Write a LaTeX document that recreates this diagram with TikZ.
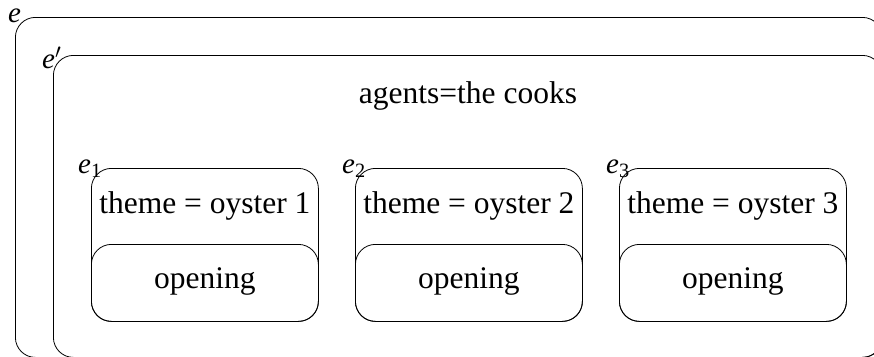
\documentclass[tikz,border=0pt]{standalone}
\usepackage{fontspec}
\setmainfont{Liberation Serif}
\usetikzlibrary{calc}
\begin{document}
\begin{tikzpicture}[x=1pt,y=-1pt,
  frame/.style={draw, line width=0.8pt, rounded corners=20pt, inner sep=0pt, anchor=north west},
  txt/.style={font=\fontsize{31.5}{36}\selectfont, anchor=base, inner sep=0pt},
  tag/.style={font=\fontsize{29}{32}\selectfont, anchor=base west, inner sep=0pt}]
\useasboundingbox (0,0) rectangle (874,356);
\clip (0,0) rectangle (874,356);

% outer event e and sub-event e'
\node[frame, minimum width=867pt, minimum height=340pt] (e) at (15,17) {};
\node[frame, minimum width=829pt, minimum height=302pt] (ep) at (53,55) {};
\node[tag] (le) at (8,22) {\itshape e};
\node[tag] (lep) at (42,68) {{\itshape e}$'$};
\node[txt] (agents) at (468,103) {agents=the cooks};

% three sub-events, each with a theme and an opening action
\foreach \i/\x in {1/91, 2/355, 3/619} {
  \node[frame, minimum width=227pt, minimum height=153pt] (b\i) at (\x,168) {};
  \node[frame, minimum width=227pt, minimum height=77pt] (o\i) at (\x,244) {};
  \node[txt] (t\i) at ($(b\i.north)+(0,45)$) {theme = oyster \i};
  \node[txt] (w\i) at ($(o\i.north)+(0,44)$) {opening};
  \node[tag] (l\i) at ($(b\i.north west)+(-13,5)$) {{\itshape e}\textsubscript{\i}};
}
\end{tikzpicture}
\end{document}
